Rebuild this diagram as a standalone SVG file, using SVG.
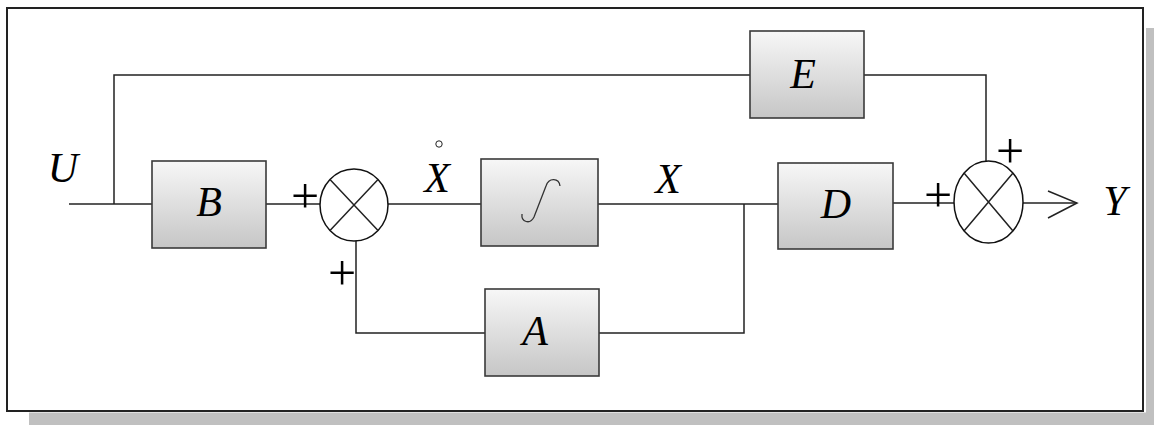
<svg xmlns="http://www.w3.org/2000/svg" width="1154" height="425" viewBox="0 0 1154 425">
<defs>
<linearGradient id="g" x1="0" y1="0" x2="0" y2="1">
<stop offset="0" stop-color="#f7f7f7"/>
<stop offset="1" stop-color="#c6c6c6"/>
</linearGradient>
</defs>
<style>
.box{fill:url(#g);stroke:#3a3a3a;stroke-width:1.6}
.ln{fill:none;stroke:#222;stroke-width:1.5}
.sj{fill:#fff;stroke:#111;stroke-width:1.5}
.lbl{font-family:"Liberation Serif",serif;font-style:italic;font-size:42px;fill:#000;text-anchor:middle}
.pl{font-family:"Liberation Serif",serif;font-size:50px;fill:#000;text-anchor:middle}
</style>
<rect x="0" y="0" width="1154" height="425" fill="#fff"/>
<rect x="29" y="28" width="1125" height="397" fill="#c0c0c0"/>
<rect x="0" y="0" width="1146" height="412.5" fill="#fff"/>
<rect x="7" y="8" width="1136" height="403" fill="#fff" stroke="#222" stroke-width="2"/>
<g id="connectors">
<path class="ln" d="M69,204 H152"/>
<path class="ln" d="M114,204 V75 H750"/>
<path class="ln" d="M864,75 H986 V161"/>
<path class="ln" d="M266,204 H320"/>
<path class="ln" d="M388,204 H481"/>
<path class="ln" d="M598,204 H778"/>
<path class="ln" d="M744,204 V333 H599"/>
<path class="ln" d="M485,333 H356 V241"/>
<path class="ln" d="M893,203 H954"/>
<path class="ln" d="M1023,203 H1077"/>
<path class="ln" d="M1048,191 L1077,203 L1048,218"/>
</g>
<g id="node-B"><rect class="box" x="152" y="161" width="114" height="87"/><text class="lbl" x="209" y="216">B</text></g>
<g id="node-sum1">
<ellipse class="sj" cx="354" cy="205" rx="34" ry="36"/>
<path class="ln" d="M330,179.5 L378,230.5 M378,179.5 L330,230.5"/>
</g>
<g id="node-int"><rect class="box" x="481" y="159" width="117" height="87"/>
<path fill="none" stroke="#333" stroke-width="1.3" d="M522,214 C521,222 530,225 534,217 L546,186 C549,177 559,178 560,186"/></g>
<g id="node-E"><rect class="box" x="750" y="31" width="114" height="87"/><text class="lbl" x="803" y="88">E</text></g>
<g id="node-D"><rect class="box" x="778" y="163" width="115" height="86"/><text class="lbl" x="836" y="218">D</text></g>
<g id="node-A"><rect class="box" x="485" y="289" width="114" height="87"/><text class="lbl" x="535" y="345">A</text></g>
<g id="node-sum2">
<ellipse class="sj" cx="988.5" cy="202" rx="34.5" ry="41"/>
<path class="ln" d="M964,173 L1013,231 M1013,173 L964,231"/>
</g>
<g id="labels">
<text class="lbl" x="63" y="182">U</text>
<text class="lbl" x="437" y="192">X</text>
<circle cx="439" cy="144" r="3.2" fill="none" stroke="#222" stroke-width="1"/>
<text class="lbl" x="668" y="193">X</text>
<text class="lbl" x="1115" y="215">Y</text>
<text class="pl" x="305" y="213">+</text>
<text class="pl" x="342" y="290">+</text>
<text class="pl" x="938" y="212">+</text>
<text class="pl" x="1010" y="168">+</text>
</g>
</svg>
